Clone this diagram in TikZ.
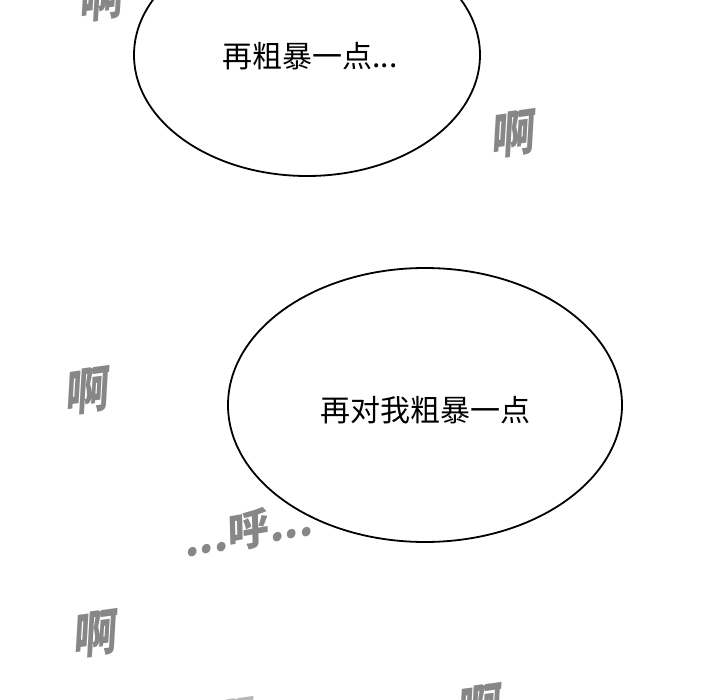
\documentclass[tikz,border=0pt]{standalone}
\usepackage{fontspec}
\newfontfamily\cjk{Noto Sans CJK SC}
\usetikzlibrary{positioning}
\definecolor{sfxgrey}{HTML}{878787}
\tikzset{
  speech/.style={font=\cjk\fontsize{30}{32}\selectfont},
  sfx/.style={text=sfxgrey, font=\cjk\bfseries\fontsize{46}{46}\selectfont, rotate=8, xslant=0.2, yscale=1.08, xscale=0.95, inner sep=0pt},
  sigh/.style={text=sfxgrey, font=\cjk\bfseries\fontsize{42}{42}\selectfont, rotate=10, xslant=0.15, inner sep=0pt}
}
\begin{document}
\begin{tikzpicture}[x=1pt, y=-1pt]
  \useasboundingbox (0,0) rectangle (720,700);
  \clip (0,0) rectangle (720,700);
  \fill[white] (0,0) rectangle (720,700);
%% first bubble
  \draw[line width=1.8pt] (307,55) ellipse [x radius=173, y radius=121];
	\node[speech] (upper) at (310, 56) {再粗暴一点...};
%% second bubble
  \draw[line width=1.8pt] (425,405) ellipse [x radius=197, y radius=137];
	\node[speech] (lower) at (425, 410) {再对我粗暴一点};
%% sound effects
	\node[sfx] (ah1) at (102, -2) {啊};
	\node[sfx] (ah2) at (514, 134) {啊};
	\node[sfx] (ah3) at (88, 391) {啊};
	\node[sfx] (ah4) at (96, 634) {啊};
	\node[sfx] (ah5) at (480, 708) {啊};
	\node[sfx, opacity=0.6] (ah6) at (232, 722) {啊};
	\node[sigh] (huff) at (249, 530) {...呼...};
\end{tikzpicture}
\end{document}
